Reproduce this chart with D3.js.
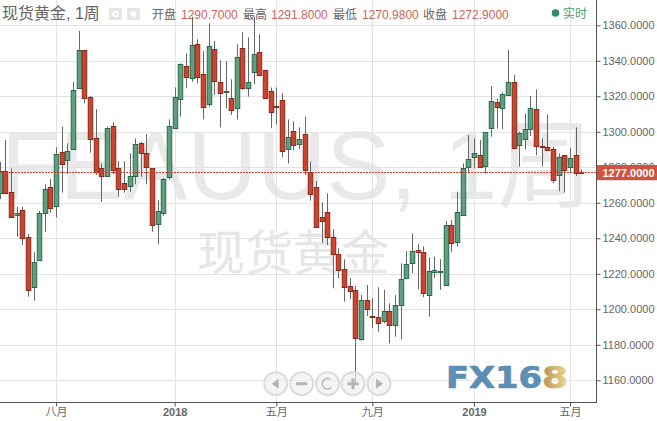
<!DOCTYPE html>
<html>
<head>
<meta charset="utf-8">
<script src="https://cdn.jsdelivr.net/npm/d3@7/dist/d3.min.js"></script>
<style>
html,body{margin:0;padding:0;background:#fff;overflow:hidden}
svg{display:block}
text{font-family:"Liberation Sans","Noto Sans CJK SC",sans-serif}
</style>
</head>
<body>
<svg id="c" width="657" height="421"></svg>
<script>
const opens=[1265.9,1278.1,1265.9,1252.9,1256,1240.5,1212.2,1227.9,1254.1,1268.7,1257.9,1288.4,1283.9,1290.1,1324.5,1345.9,1319.4,1296.3,1279.4,1274.9,1303.1,1279.4,1271,1269.3,1274.9,1293.5,1287.9,1279.4,1247.9,1254.1,1274.4,1302,1318.3,1336.9,1330.1,1349.3,1332.4,1315.3,1346.5,1327.9,1322.2,1318.9,1313.2,1347,1324.5,1333.5,1344.8,1334.6,1322.8,1314.4,1317.7,1290.1,1300.3,1293,1298.6,1277.2,1269.1,1251.8,1254.6,1240.5,1231,1222.5,1213,1210.7,1183.1,1205.1,1196,1195.5,1193.2,1198.9,1191,1202.2,1217.5,1225.9,1233.2,1232.1,1207.9,1220.8,1221,1214.1,1247.7,1237.7,1252.9,1279.8,1285.6,1286.7,1280.6,1302,1316.6,1313.2,1320.6,1327.9,1292.4,1295.8,1301.4,1312.7,1291.8,1291.3,1290.1,1275.5,1286.7,1280,1286.7,1277.2];
const closes=[1278.1,1265.9,1251.8,1254.1,1240.5,1210.5,1226.5,1254.1,1267.6,1256.9,1287.3,1281.7,1289,1323.4,1345.9,1318.9,1295.8,1277.2,1274.9,1301.9,1278.3,1267.6,1267.9,1274.9,1293,1287.9,1279.8,1247.3,1255.4,1273.2,1303.1,1319.4,1338,1330.7,1348.7,1330.7,1313.8,1348.2,1328.5,1321.7,1322.8,1312.1,1342,1324.5,1327.9,1343.7,1331.8,1318.9,1311,1313.8,1289,1296.9,1292.4,1295.8,1278.3,1264.8,1246.5,1249.6,1240.5,1231,1221.9,1212.4,1210.1,1183.7,1205.1,1199.8,1195.6,1192.4,1198.9,1191,1202.2,1216.9,1225.3,1232.7,1232.1,1209,1221.4,1222,1221.4,1247.7,1237.7,1254.6,1279.4,1284.5,1287.9,1280,1299.7,1317.2,1313.8,1321.1,1327.9,1290.7,1299.2,1301.4,1313.2,1291.8,1291.3,1289.6,1272.7,1285.6,1278.3,1285.1,1276.6,1276.6];
const highs=[1283,1295.4,1279.4,1257.8,1257.8,1242.4,1232.1,1255.4,1270.4,1273.4,1291.3,1302.9,1293.5,1328.2,1356.8,1345.9,1320.3,1312.8,1282.2,1302.9,1305.4,1283.5,1283.4,1287.9,1296.3,1294.4,1298.6,1279.4,1261.6,1274,1307,1325,1338.6,1344.2,1364.8,1352.1,1345.5,1361.1,1351.2,1340.3,1339.7,1329.6,1349.3,1356.1,1353.2,1364.8,1354.9,1334.6,1325,1325,1321.7,1307,1305.9,1302.5,1308.5,1283.4,1272.3,1260.4,1265.3,1245.1,1234.4,1228.2,1217.6,1213.1,1208,1213.7,1206.2,1212.4,1210.9,1203.4,1208,1225.9,1232.8,1242.8,1236.8,1235.5,1229.3,1229.6,1228.2,1249.7,1250.3,1266.2,1282.2,1298.2,1296.3,1295.4,1299.7,1325.8,1318.5,1322.2,1346.1,1332,1300.1,1310.4,1320.2,1323.9,1296.3,1309.8,1291.6,1287.9,1286.7,1290.7,1302.5,1278.5];
const lows=[1262,1265.9,1251.8,1240.9,1236.2,1207.1,1204.8,1227.9,1243.7,1254.4,1251.8,1265.7,1276.2,1290.1,1324.5,1316.1,1288.2,1275.7,1260.6,1274.9,1276.1,1263.4,1265.7,1266.2,1270.4,1274.7,1270.4,1243.7,1236.6,1252.7,1273.2,1302,1308.5,1324.5,1328.2,1327.3,1307,1314.1,1320.7,1302.5,1313.2,1309.5,1307,1323.5,1319.8,1326.8,1331.8,1318.9,1302,1304.2,1285.6,1282.2,1289.6,1290.1,1275.7,1261.2,1246.5,1237.5,1236.2,1211.8,1217.5,1204.3,1205.6,1158.5,1182.3,1196.2,1189.6,1187.4,1192.1,1180.8,1184.6,1183.1,1217,1220.3,1211.3,1206.8,1195.8,1217.5,1210.9,1214.1,1232.4,1235.3,1252.9,1276.6,1279.4,1280,1276.6,1297.2,1302,1301.6,1320.6,1290.1,1280.3,1290.1,1297.6,1286.8,1280.3,1289.6,1271,1266.5,1265.7,1276.6,1275.1,1276.6];
const priceTicks=[1360,1340,1320,1300,1280,1260,1240,1220,1200,1180,1160];
const weekTicks=[10,31,49,66,84,101];
const weekLabels=["八月","2018","五月","九月","2019","五月"];
const headerNames=["开盘","最高","最低","收盘"];
const headerValues=["1290.7000","1291.8000","1270.9800","1272.9000"];
const lastPrice=1277;

const svg=d3.select("#c");
const W=657,H=421,axisX=596,axisY=402;
const x=d3.scaleLinear().domain([1,103]).range([5.3,581.3]);
const y=d3.scaleLinear().domain([1360,1160]).range([25.3,380.3]);
const crisp=v=>Math.round(v)+0.5;

// watermark
svg.append("text").attr("x",297).attr("y",199).attr("text-anchor","middle")
  .attr("font-size",96).attr("fill","#e9e9e9").text("FEAUUS, 1周");
svg.append("text").attr("x",293).attr("y",270).attr("text-anchor","middle")
  .attr("font-size",48).attr("fill","#e6e6e6").text("现货黄金");

// grid
const grid=svg.append("g").attr("stroke","#e3e3e3").attr("stroke-width",1);
priceTicks.forEach(t=>grid.append("line").attr("x1",0).attr("x2",axisX).attr("y1",crisp(y(t))).attr("y2",crisp(y(t))));
weekTicks.forEach(t=>grid.append("line").attr("x1",crisp(x(t))).attr("x2",crisp(x(t))).attr("y1",0).attr("y2",axisY));

// candles
const idx=d3.range(opens.length);
const cg=svg.append("g").attr("clip-path","url(#plot)");
svg.append("clipPath").attr("id","plot").append("rect").attr("x",0).attr("y",0).attr("width",axisX).attr("height",axisY);
const up="#5f9f7f",upS="#2a6a4c",dn="#cb4430",dnS="#8a2a1a";
cg.selectAll("line.w").data(idx).join("line").attr("class","w")
  .attr("x1",i=>crisp(x(i))).attr("x2",i=>crisp(x(i)))
  .attr("y1",i=>y(highs[i])).attr("y2",i=>y(lows[i]))
  .attr("stroke","#666").attr("stroke-width",1);
cg.selectAll("rect.b").data(idx).join("rect").attr("class","b")
  .attr("x",i=>Math.round(x(i))-1.75).attr("width",4.5)
  .attr("y",i=>Math.round(y(Math.max(opens[i],closes[i])))+0.5)
  .attr("height",i=>Math.max(1,Math.round(Math.abs(y(opens[i])-y(closes[i])))))
  .attr("fill",i=>closes[i]>opens[i]?up:dn)
  .attr("stroke",i=>closes[i]>opens[i]?upS:dnS).attr("stroke-width",1);

// axes
const rightAxis=d3.axisRight(y).tickValues(priceTicks).tickFormat(d3.format(".4f")).tickSize(4).tickPadding(2);
const ra=svg.append("g").attr("transform",`translate(${axisX+0.5},0)`).call(rightAxis);
ra.select(".domain").remove();
ra.selectAll("line").attr("stroke","#555");
ra.selectAll("text").attr("font-size",11).attr("fill","#666");
svg.append("line").attr("x1",axisX+0.5).attr("x2",axisX+0.5).attr("y1",0).attr("y2",axisY+1).attr("stroke","#555");

const bottomAxis=d3.axisBottom(x).tickValues(weekTicks).tickFormat((d,i)=>weekLabels[i]).tickSize(4).tickPadding(2);
const ba=svg.append("g").attr("transform",`translate(0,${axisY+0.5})`).call(bottomAxis);
ba.select(".domain").remove();
ba.selectAll("line").attr("stroke","#555");
ba.selectAll("text").attr("font-size",11).attr("fill","#666")
  .attr("font-weight",(d,i)=>/^\d/.test(weekLabels[i])?"bold":"normal");
svg.append("line").attr("x1",0).attr("x2",axisX+0.5).attr("y1",axisY+0.5).attr("y2",axisY+0.5).attr("stroke","#555");

// last price line + tag
svg.append("line").attr("x1",0).attr("x2",axisX).attr("y1",Math.floor(y(lastPrice))+0.5).attr("y2",Math.floor(y(lastPrice))+0.5)
  .attr("stroke","#cc3f33").attr("stroke-dasharray","2,1");
svg.append("rect").attr("x",axisX+1).attr("width",W-axisX-1).attr("y",y(lastPrice)-7.6).attr("height",15.2).attr("fill","#cf5340");
svg.append("text").attr("x",602.5).attr("y",y(lastPrice)+4.5).attr("font-size",11).attr("font-weight","bold").attr("fill","#fff").text(lastPrice.toFixed(4));

// header
svg.append("text").attr("x",2).attr("y",19).attr("font-size",16).attr("fill","#666").text("现货黄金, 1周");
[109,127].forEach(px=>svg.append("rect").attr("x",px).attr("y",8).attr("width",13).attr("height",12).attr("fill","#e6e6e6"));
svg.append("circle").attr("cx",115.5).attr("cy",14).attr("r",2.5).attr("fill","none").attr("stroke","#fff").attr("stroke-width",1.5);
svg.append("circle").attr("cx",133.5).attr("cy",14).attr("r",3).attr("fill","#fff");
const nameX=[152,243,333,423],valX=[181,271,362,452];
headerNames.forEach((n,i)=>{
  svg.append("text").attr("x",nameX[i]).attr("y",19).attr("font-size",12).attr("fill","#666").text(n);
  svg.append("text").attr("x",valX[i]).attr("y",19).attr("font-size",12).attr("fill","#c9645a").text(headerValues[i]);
});
svg.append("circle").attr("cx",555.5).attr("cy",13).attr("r",3.8).attr("fill","#2e8b62");
svg.append("text").attr("x",563).attr("y",18).attr("font-size",12).attr("fill","#4f9a78").text("实时");

// nav buttons
const navX=[275.7,301.7,327.6,353,379],navY=383.7;
const nav=svg.append("g");
navX.forEach(cx=>nav.append("circle").attr("cx",cx).attr("cy",navY).attr("r",11.5)
  .attr("fill","#f0f0f0").attr("fill-opacity",0.65).attr("stroke","#dcdcdc").attr("stroke-width",2));
const ic="#b4b4b4";
nav.append("path").attr("d",`M${navX[0]-4},${navY} l7,-5 v10 z`).attr("fill",ic);
nav.append("rect").attr("x",navX[1]-5.5).attr("y",navY-1.5).attr("width",11).attr("height",3).attr("fill",ic);
nav.append("path").attr("d",d3.arc()({innerRadius:4.5,outerRadius:6,startAngle:2.3,endAngle:6.9})).attr("transform",`translate(${navX[2]},${navY})`).attr("fill",ic);
nav.append("path").attr("d",`M${navX[3]-5.5},${navY-1.5} h4 v-4 h3 v4 h4 v3 h-4 v4 h-3 v-4 h-4 z`).attr("fill",ic);
nav.append("path").attr("d",`M${navX[4]+4},${navY} l-7,-5 v10 z`).attr("fill",ic);

// logo
const defs=svg.append("defs");
const gr=defs.append("linearGradient").attr("id","gold").attr("x1",0).attr("x2",1);
gr.append("stop").attr("offset","0").attr("stop-color","#b8935a");
gr.append("stop").attr("offset","1").attr("stop-color","#efd88e");
const logoFont='"DejaVu Sans",sans-serif';
svg.append("text").attr("x",446).attr("y",388).attr("font-size",30).attr("font-weight","bold")
  .style("font-family",logoFont).attr("fill","#5b8fb3").attr("stroke","#5b8fb3").attr("stroke-width",0.7)
  .attr("textLength",96).attr("lengthAdjust","spacingAndGlyphs").text("FX16");
svg.append("text").attr("x",542).attr("y",388).attr("font-size",30).attr("font-weight","bold")
  .style("font-family",logoFont).attr("fill","url(#gold)").attr("stroke","url(#gold)").attr("stroke-width",0.7)
  .attr("textLength",26).attr("lengthAdjust","spacingAndGlyphs").text("8");
</script>
</body>
</html>
